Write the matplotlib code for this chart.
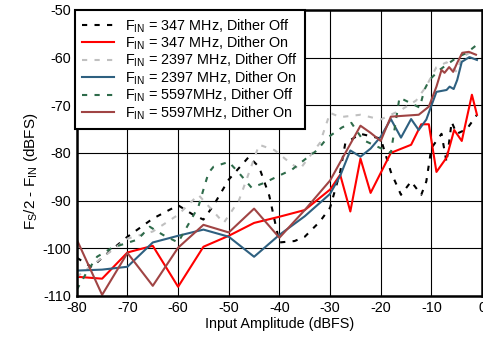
import numpy as np
import matplotlib
matplotlib.use('Agg')
import matplotlib.pyplot as plt

plt.rcParams['font.family'] = ['Liberation Sans', 'DejaVu Sans']
plt.rcParams['mathtext.fontset'] = 'custom'
plt.rcParams['mathtext.rm'] = 'Liberation Sans'
plt.rcParams['mathtext.it'] = 'Liberation Sans'
plt.rcParams['axes.unicode_minus'] = False

# data: (input amplitude dBFS, Fs/2 - Fin dBFS)
off347_x = [-80, -77, -75, -70, -65, -60, -57, -55, -53, -50, -46, -44, -42, -40, -37, -35, -32, -30,
            -28, -27, -24, -20, -18, -16, -14, -12, -11, -10, -8, -7, -6, -5, -3, -1]
off347_y = [-102, -104, -102, -97.6, -93.8, -91, -93, -94, -91, -85.6, -80.8, -83, -89, -98.8, -98.5,
            -97.6, -94.4, -91.5, -84, -78, -76, -77, -84, -88.8, -86, -88.8, -86, -79, -76, -82, -73.5,
            -76, -75, -72]

on347_x = [-80, -75, -70, -65, -60, -55, -50, -45, -40, -35, -30, -28, -26, -24, -22, -18, -14, -12,
           -10.5, -9, -8, -7, -5.5, -4, -2, -1]
on347_y = [-106, -106.4, -100.9, -99.5, -108.1, -99.7, -97.4, -94.7, -93.4, -92, -87.7, -84.6, -92.3,
           -81.2, -88.4, -80, -78.3, -74, -74, -84, -82.5, -81, -75.2, -77.5, -67.8, -72]

off2397_x = [-80, -75, -70, -65, -60, -56, -51, -48, -44, -41, -38, -36, -32, -30, -28, -24, -20, -16,
             -13, -11, -9, -7, -5, -4, -2.5, -1]
off2397_y = [-106, -102, -98, -96.5, -93, -88.8, -94.7, -90, -78.3, -79.4, -82, -83.5, -77.9, -71.6,
             -72.5, -72, -73, -71, -69, -66, -62, -61, -63, -60, -59, -59]

on2397_x = [-80, -75, -70, -65, -60, -55, -50, -45, -40, -35, -30, -28, -26, -24, -22, -20, -18, -16,
            -14, -12.5, -11, -9, -7, -6.4, -5.6, -4.9, -4, -2.5, -1]
on2397_y = [-104.7, -104.5, -103.9, -98.8, -97.4, -96.1, -97.6, -101.8, -97.2, -93.3, -88.6, -84.8,
            -79.5, -80.8, -79.1, -76.6, -72.9, -76.8, -72.9, -75.2, -73, -67.2, -66.8, -66.1, -66.6,
            -64.7, -60.9, -59.9, -60.5]

off5597_x = [-80, -78, -76, -73, -68, -65.6, -63, -60, -56, -55, -54, -53, -50, -48, -45.5, -43, -40.5,
             -37.5, -35, -32.5, -30.5, -27.7, -25.8, -23.5, -18, -16.3, -12.3, -11.4, -10.4, -8.4, -5,
             -3, -1]
off5597_y = [-108.7, -105, -101.8, -99.9, -98.2, -95.5, -97.2, -98.8, -91.3, -87.7, -84.2, -82.9, -81.9,
             -84.2, -87.3, -86.3, -85, -83.5, -81.4, -79.4, -76.8, -74.7, -73.7, -77.3, -80, -68.4,
             -70.5, -66.8, -64.7, -62.6, -60, -59, -57.3]

on5597_x = [-80, -75, -70, -65, -60, -55, -50, -45, -40, -35, -30, -24, -22, -20, -18, -12.5, -10.5, -9,
            -8, -7.4, -6.5, -5.7, -4.9, -3.9, -2.6, -1.2]
on5597_y = [-98.2, -109.8, -101, -107.9, -99.9, -95.1, -96.7, -91.7, -97.8, -92, -85.8, -74.3, -75.8,
            -77.5, -72.4, -72, -70.3, -66.1, -62.6, -63.2, -62, -63, -61.1, -59, -58.8, -59.4]

labels = [r'F$_{\mathrm{IN}}$ = 347 MHz, Dither Off',
          r'F$_{\mathrm{IN}}$ = 347 MHz, Dither On',
          r'F$_{\mathrm{IN}}$ = 2397 MHz, Dither Off',
          r'F$_{\mathrm{IN}}$ = 2397 MHz, Dither On',
          r'F$_{\mathrm{IN}}$ = 5597MHz, Dither Off',
          r'F$_{\mathrm{IN}}$ = 5597MHz, Dither On']

fs = 10.4
dash = (0, (2.5, 3.5))
lw = 1.5

fig = plt.figure(figsize=(4.83, 3.42), dpi=100)
ax = fig.add_axes([0.159, 0.135, 0.839, 0.836])

ax.plot(off347_x, off347_y, color='black', lw=lw, ls=dash, label=labels[0])
ax.plot(on347_x, on347_y, color='#ff0000', lw=lw, label=labels[1])
ax.plot(off2397_x, off2397_y, color='#c0c0c0', lw=lw, ls=dash, label=labels[2])
ax.plot(on2397_x, on2397_y, color='#2e6080', lw=lw, label=labels[3])
ax.plot(off5597_x, off5597_y, color='#2e6b4a', lw=lw, ls=dash, label=labels[4])
ax.plot(on5597_x, on5597_y, color='#a04444', lw=lw, label=labels[5])

ax.set_xlim(-80, 0)
ax.set_ylim(-110, -50)
ax.set_xticks(np.arange(-80, 1, 10))
ax.set_yticks(np.arange(-110, -49, 10))
ax.grid(True, color='black', lw=0.8)
ax.tick_params(length=0, labelsize=fs, pad=4)
for s in ax.spines.values():
    s.set_linewidth(1.8)

ax.set_xlabel('Input Amplitude (dBFS)', fontsize=fs, labelpad=1)
ax.set_ylabel(r'F$_{\mathrm{S}}$/2 - F$_{\mathrm{IN}}$ (dBFS)', fontsize=11)
ax.yaxis.set_label_coords(-0.092, 0.434)

leg = ax.legend(loc='upper left', bbox_to_anchor=(-0.005, 1.0), fontsize=fs, fancybox=False,
                framealpha=1, edgecolor='black', handlelength=2.2, labelspacing=0.0,
                borderpad=0.5, handletextpad=0.8, borderaxespad=0.0)
leg.get_frame().set_linewidth(1.5)

fig.savefig('out.png', dpi=100)
